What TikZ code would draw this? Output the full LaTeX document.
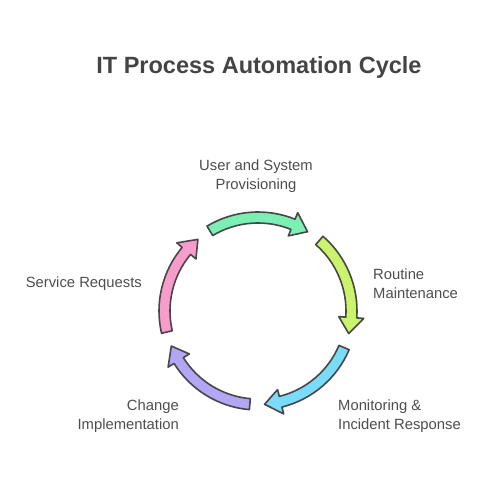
\documentclass[tikz,border=0pt]{standalone}
\usepackage{fontspec}
\setmainfont{Liberation Sans}
\definecolor{titlegray}{HTML}{444444}
\definecolor{txtgray}{HTML}{4D4D4D}
\definecolor{edgegray}{HTML}{474747}
\definecolor{segA}{HTML}{7CF0B4}
\definecolor{segB}{HTML}{C9F46C}
\definecolor{segC}{HTML}{7ADCF8}
\definecolor{segD}{HTML}{B3A6F5}
\definecolor{segE}{HTML}{F89CCB}

\begin{document}
\begin{tikzpicture}[x=1pt,y=1pt,
    lbl/.style={font=\fontsize{14.8}{19}\selectfont,text=txtgray,inner sep=0pt},
    cyc/.style={draw=edgegray,line width=1.6pt,line join=round}]
  \useasboundingbox (0,0) rectangle (492,480);
  \node[font=\fontsize{23.5}{28}\selectfont\bfseries,text=titlegray] (title) at (259,413) {IT Process Automation Cycle};
  % five arrows round the circle, clockwise
  \begin{scope}[shift={(258,169)}]
    \foreach \c/\col in {90/segA,18/segB,-54/segC,-126/segD,162/segE}
      {
        \pgfmathsetmacro\s{\c+31}
        \pgfmathsetmacro\b{\c-22}
        \pgfmathsetmacro\t{\c-32}
        \filldraw[cyc,fill=\col] (\s:99) arc[start angle=\s,end angle=\b,radius=99]
          -- (\b:106) -- (\t:93.5) -- (\b:81) -- (\b:88)
          arc[start angle=\b,end angle=\s,radius=88] -- cycle;
      }
  \end{scope}
  \node[lbl,align=center] (prov) at (256,304) {User and System\\Provisioning};
  \node[lbl,align=left,anchor=west] (maint) at (373,196.5) {Routine\\Maintenance};
  \node[lbl,align=left,anchor=west] (monit) at (338,64) {Monitoring \&\\Incident Response};
  \node[lbl,align=right,anchor=east] (change) at (179,64) {Change\\Implementation};
  \node[lbl,align=right,anchor=east] (serv) at (142,196) {Service Requests};
\end{tikzpicture}
\end{document}
